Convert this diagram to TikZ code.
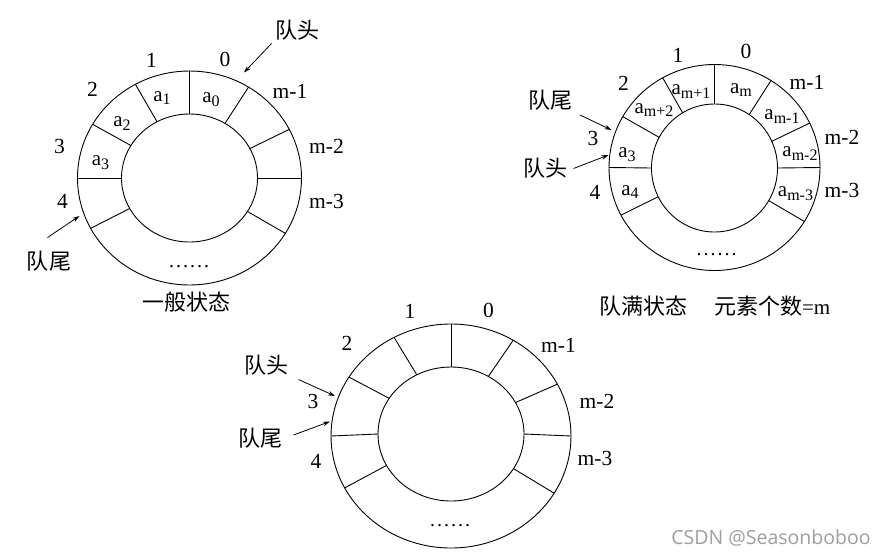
\documentclass[tikz,border=0pt]{standalone}
\usepackage{fontspec}
\setmainfont{Liberation Serif}
\newfontfamily\cjk{Noto Sans CJK SC}
\newfontfamily\wmfont{Open Sans}
\usetikzlibrary{arrows.meta,shapes.geometric}
\newcommand{\ai}[1]{a\raisebox{-0.4ex}{\fontsize{16}{16}\selectfont #1}}
\newcommand{\sixdots}{.\kern2pt.\kern2pt.\kern2pt.\kern2pt.\kern2pt.}
\tikzset{
  x=1pt, y=-1pt,
  ringline/.style={line width=0.9pt},
  oval/.style={ellipse, draw, line width=0.9pt, inner sep=0pt, outer sep=0pt},
  lbl/.style={font=\fontsize{21.5}{21.5}\selectfont, inner sep=0pt},
  cell/.style={font=\fontsize{21}{21}\selectfont, inner sep=0pt},
  cjkl/.style={font=\fontsize{22}{22}\selectfont\cjk, inner sep=0pt},
  dots/.style={font=\fontsize{20}{20}\selectfont, inner sep=0pt, anchor=base},
  ptr/.style={-{Stealth[length=7pt,width=4.5pt]}, line width=0.8pt},
}
\begin{document}
\begin{tikzpicture}
\useasboundingbox (0,0) rectangle (885,555);

% ---------- left ring: general state ----------
\node[oval, minimum width=224pt, minimum height=214pt] (Lo) at (189.5,178) {};
\node[oval, minimum width=136pt, minimum height=128pt] (Li) at (189.5,178) {};
\foreach \t in {90,120,151,180,207,57,26,0,-30}
  \draw[ringline] (Li.\t) -- (Lo.\t);
\node[lbl] (L1) at (151.5,60) {1};
\node[lbl] (L0) at (225,59) {0};
\node[lbl] (L2) at (92.5,89) {2};
\node[lbl] (Lm1) at (290,91.5) {m-1};
\node[lbl] (L3) at (59.5,146.5) {3};
\node[lbl] (Lm2) at (326.5,146.5) {m-2};
\node[lbl] (L4) at (62.5,201.5) {4};
\node[lbl] (Lm3) at (326.5,201) {m-3};
\node[cell] (La1) at (162,98) {\ai{1}};
\node[cell] (La0) at (211,99.5) {\ai{0}};
\node[cell] (La2) at (122,123.5) {\ai{2}};
\node[cell] (La3) at (100.5,162.5) {\ai{3}};
\node[dots] (Ld) at (189,267) {\sixdots};
\node[cjkl] (Lhead) at (297.5,30) {队头};
\node[cjkl] (Ltail) at (49,261.5) {队尾};
\node[cjkl] (Lcap) at (186.5,302.5) {一般状态};
\coordinate (LhP) at (244,72.5);
\coordinate (LtP) at (79.5,216);
\draw[ptr] (271.5,43.5) -- (LhP);
\draw[ptr] (47.5,237.5) -- (LtP);

% ---------- right ring: full state ----------
\node[oval, minimum width=211pt, minimum height=206pt] (Ro) at (714.5,167.5) {};
\node[oval, minimum width=126pt, minimum height=128pt] (Ri) at (714.5,168) {};
\foreach \t in {90,120,151,180,207,57,25,0,-31}
  \draw[ringline] (Ri.\t) -- (Ro.\t);
\node[lbl] (R1) at (678,55) {1};
\node[lbl] (R0) at (746,51) {0};
\node[lbl] (R2) at (623.5,83.5) {2};
\node[lbl] (Rm1) at (807,82) {m-1};
\node[lbl] (R3) at (593,138.5) {3};
\node[lbl] (Rm2) at (842,137) {m-2};
\node[lbl] (R4) at (595,192) {4};
\node[lbl] (Rm3) at (842,190) {m-3};
\node[cell] (Ra1) at (691,91.5) {\ai{m+1}};
\node[cell] (Ra0) at (741,90) {\ai{m}};
\node[cell] (Ra2) at (654,110) {\ai{m+2}};
\node[cell] (Ram1) at (782,116.5) {\ai{m-1}};
\node[cell] (Ra3) at (627,155) {\ai{3}};
\node[cell] (Ram2) at (800,153.5) {\ai{m-2}};
\node[cell] (Ra4) at (630,192) {\ai{4}};
\node[cell] (Ram3) at (795.5,193.5) {\ai{m-3}};
\node[dots] (Rd) at (716.5,255) {\sixdots};
\node[cjkl] (Rtail) at (550,100) {队尾};
\node[cjkl] (Rhead) at (545,168) {队头};
\node[cjkl] (Rcap) at (715,306.5) {队满状态\hspace{1.2em}元素个数{\rmfamily\fontsize{21}{21}\selectfont =m}};
\coordinate (RtP) at (611.5,130);
\coordinate (RhP) at (608.5,155);
\draw[ptr] (580,115) -- (RtP);
\draw[ptr] (573.5,168.5) -- (RhP);

% ---------- bottom ring: empty state ----------
\node[oval, minimum width=240pt, minimum height=224pt] (Bo) at (451,436) {};
\node[oval, minimum width=146pt, minimum height=134pt] (Bi) at (451,434) {};
\foreach \t in {90,120,150,180,206,57,26,0,-29}
  \draw[ringline] (Bi.\t) -- (Bo.\t);
\node[lbl] (B1) at (410,311.5) {1};
\node[lbl] (B0) at (488.5,310) {0};
\node[lbl] (B2) at (347,343.5) {2};
\node[lbl] (Bm1) at (558.5,345) {m-1};
\node[lbl] (B3) at (313,401.5) {3};
\node[lbl] (Bm2) at (597,401.5) {m-2};
\node[lbl] (B4) at (316,461.5) {4};
\node[lbl] (Bm3) at (595,458.5) {m-3};
\node[dots] (Bd) at (450,526) {\sixdots};
\node[cjkl] (Bhead) at (266,365) {队头};
\node[cjkl] (Btail) at (260,438.5) {队尾};
\coordinate (BhP) at (335,396);
\coordinate (BtP) at (330,421.5);
\draw[ptr] (298.5,379.5) -- (BhP);
\draw[ptr] (293.5,435) -- (BtP);

% ---------- watermark ----------
\node[font=\fontsize{19.5}{19.5}\wmfont, text=black!38, inner sep=0pt] (wm) at (771,538) {CSDN @Seasonboboo};
\end{tikzpicture}
\end{document}
